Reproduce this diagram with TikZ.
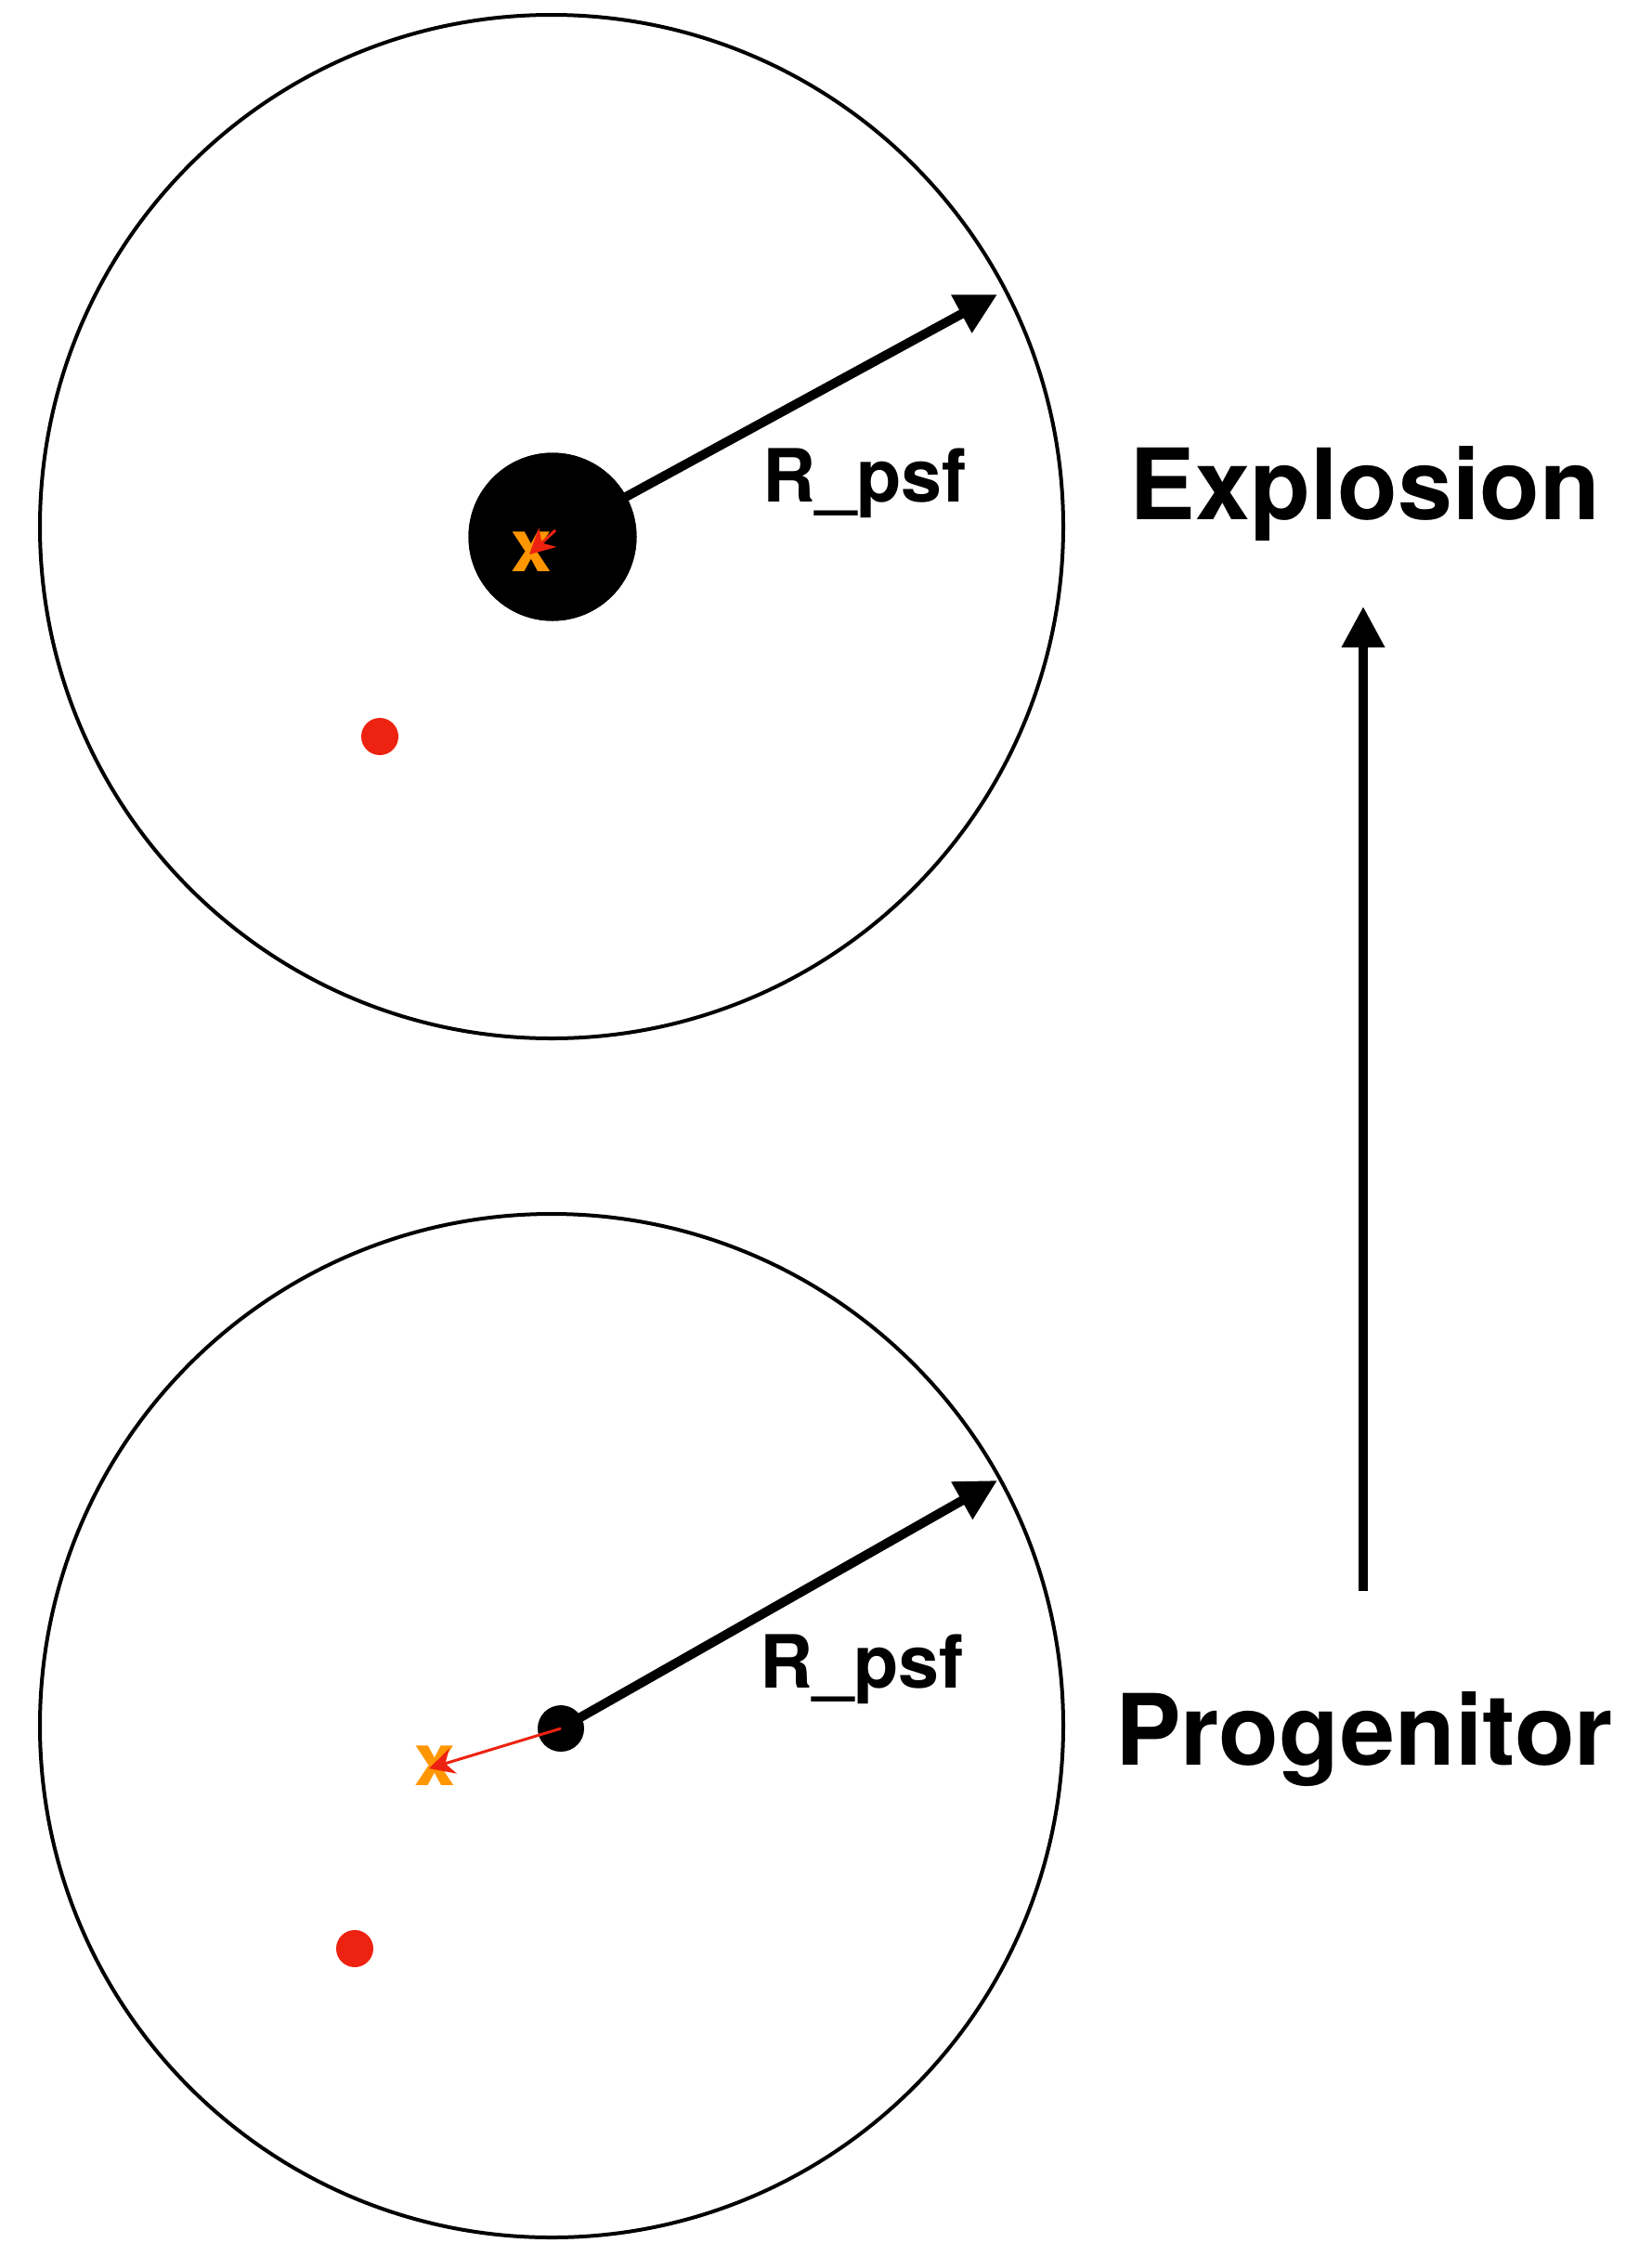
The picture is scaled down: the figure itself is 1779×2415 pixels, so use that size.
\documentclass[tikz,border=0pt]{standalone}
\usepackage{fontspec}
\setmainfont{TeX Gyre Heros}
\usepackage{tikz}
\usetikzlibrary{arrows.meta, positioning, calc}

\definecolor{snorange}{RGB}{255,150,0}
\definecolor{snred}{RGB}{238,34,17}

\tikzset{
  field/.style={draw, line width=4pt, circle, minimum size=1102pt, inner sep=0pt},
  source/.style={circle, fill=black, inner sep=0pt},
  host/.style={circle, fill=snred, minimum size=40pt, inner sep=0pt},
  cross/.style={text=snorange, inner sep=0pt, font=\fontsize{79}{80}\selectfont\bfseries},
  radius arrow/.style={line width=10pt, -{Triangle[length=44pt, width=44pt]}},
  offset arrow/.style={line width=3pt, snred, -{Stealth[length=27pt, width=28pt]}},
  stage/.style={anchor=base, inner sep=0pt, font=\fontsize{106}{110}\selectfont\bfseries},
  rlabel/.style={anchor=base west, inner sep=0pt, font=\fontsize{79}{80}\selectfont\bfseries}
}

\begin{document}
\begin{tikzpicture}[x=1pt, y=-1pt]
  \useasboundingbox (0,0) rectangle (1779,2415);

  % Explosion
  \node[field] (fieldtop) at (594,567) {};
  \coordinate (tiptop) at (1074,317);
  \node[source, minimum size=181pt] (srctop) at (595,578) {};
  \draw[radius arrow] (srctop.center) -- (tiptop);
  \node[source, minimum size=181pt] at (srctop.center) {};
  \node[host] (hosttop) at (409,793) {};
  \node[cross] (xtop) at (572,594) {x};
  \coordinate (redtop) at (598,571);
  \draw[offset arrow] (redtop) -- (570,597);
  \node[rlabel] (rtop) at (821,540) {R\_psf};
  \node[stage] (explosion) at (1470,559) {Explosion};

  % Progenitor
  \node[field] (fieldbot) at (594,1858) {};
  \coordinate (tipbot) at (1074,1594);
  \node[source, minimum size=50pt] (srcbot) at (604,1861) {};
  \draw[radius arrow] (srcbot.center) -- (tipbot);
  \node[host] (hostbot) at (382,2098) {};
  \node[cross] (xbot) at (468,1901) {x};
  \draw[offset arrow] (srcbot.center) -- (462,1904);
  \node[rlabel] (rbot) at (818,1817) {R\_psf};
  \node[stage] (progenitor) at (1469,1900) {Progenitor};

  % Evolution
  \coordinate (evostart) at (1468,1713);
  \coordinate (evoend) at (1468,653);
  \draw[radius arrow] (evostart) -- (evoend);
\end{tikzpicture}
\end{document}
